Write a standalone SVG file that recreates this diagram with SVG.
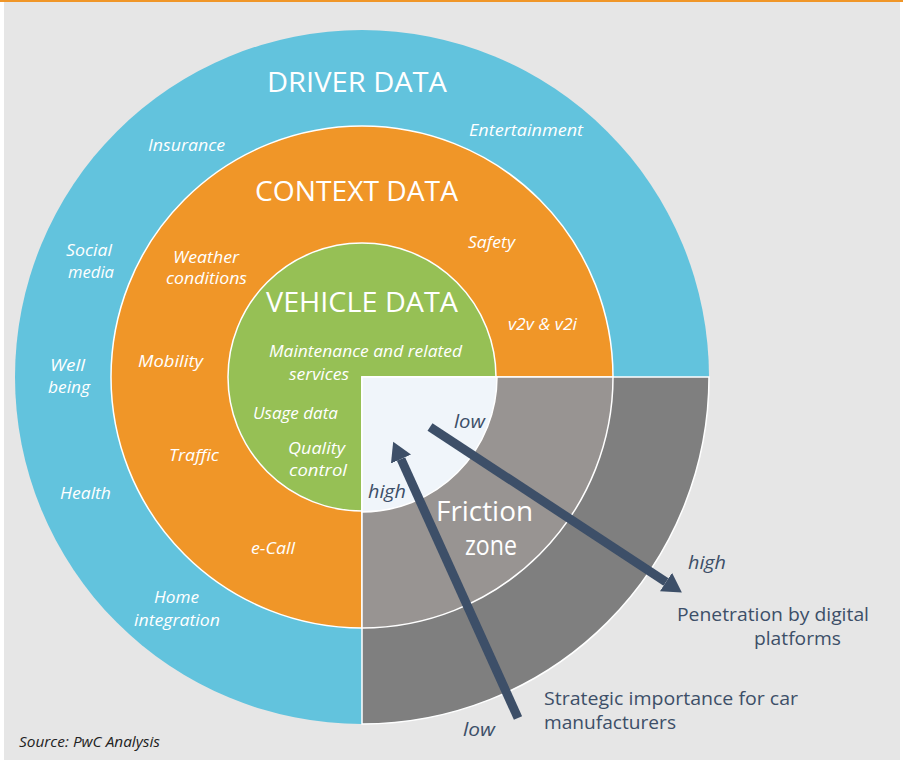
<svg xmlns="http://www.w3.org/2000/svg" width="903" height="763" viewBox="0 0 903 763">
  <defs>
    <style>
      .lbl { font-family: "Open Sans", "Liberation Sans", sans-serif; font-style: italic; font-size: 17px; fill: #ffffff; }
      .head { font-family: "Open Sans", "Liberation Sans", sans-serif; font-size: 27px; fill: #ffffff; }
      .axis { font-family: "Open Sans", "Liberation Sans", sans-serif; font-style: italic; font-size: 19px; fill: #3d4f68; }
      .cap { font-family: "Open Sans", "Liberation Sans", sans-serif; font-size: 19px; fill: #3d4f68; }
      .ring { stroke: #ffffff; stroke-width: 1.5; }
      .arrow { stroke: #3d4f68; stroke-width: 9; fill: none; marker-end: url(#head); }
    </style>
    <marker id="head" markerUnits="userSpaceOnUse" markerWidth="20" markerHeight="22" refX="0" refY="11" orient="auto">
      <path d="M0,0 L19,11 L0,22 Z" fill="#3d4f68"/>
    </marker>
  </defs>

  <!-- page -->
  <rect x="0" y="0" width="903" height="763" fill="#ffffff"/>
  <rect x="4" y="2" width="896" height="758" fill="#e6e6e6"/>
  <rect x="0" y="0" width="903" height="2" fill="#f09628"/>

  <!-- data rings -->
  <g id="driver-data">
    <circle cx="362" cy="377" r="347" fill="#62c3dd"/>
    <text class="head" x="267" y="92" textLength="180" lengthAdjust="spacingAndGlyphs">DRIVER DATA</text>
    <text class="lbl" x="469" y="136" textLength="114" lengthAdjust="spacingAndGlyphs">Entertainment</text>
    <text class="lbl" x="148" y="151" textLength="77" lengthAdjust="spacingAndGlyphs">Insurance</text>
    <text class="lbl" x="66" y="256" textLength="46" lengthAdjust="spacingAndGlyphs">Social</text>
    <text class="lbl" x="68" y="278" textLength="46" lengthAdjust="spacingAndGlyphs">media</text>
    <text class="lbl" x="50" y="371" font-size="16" textLength="35" lengthAdjust="spacingAndGlyphs">Well</text>
    <text class="lbl" x="48" y="393" font-size="16" textLength="42" lengthAdjust="spacingAndGlyphs">being</text>
    <text class="lbl" x="60" y="499" textLength="51" lengthAdjust="spacingAndGlyphs">Health</text>
    <text class="lbl" x="154" y="603" textLength="45" lengthAdjust="spacingAndGlyphs">Home</text>
    <text class="lbl" x="134" y="626" textLength="86" lengthAdjust="spacingAndGlyphs">integration</text>
  </g>

  <g id="context-data">
    <circle class="ring" cx="362" cy="377" r="251" fill="#f09628"/>
    <text class="head" x="255" y="201" textLength="203" lengthAdjust="spacingAndGlyphs">CONTEXT DATA</text>
    <text class="lbl" x="468" y="248" textLength="47" lengthAdjust="spacingAndGlyphs">Safety</text>
    <text class="lbl" x="173" y="263" textLength="66" lengthAdjust="spacingAndGlyphs">Weather</text>
    <text class="lbl" x="166" y="284" textLength="81" lengthAdjust="spacingAndGlyphs">conditions</text>
    <text class="lbl" x="508" y="330" textLength="69" lengthAdjust="spacingAndGlyphs">v2v &amp; v2i</text>
    <text class="lbl" x="138" y="367" textLength="65" lengthAdjust="spacingAndGlyphs">Mobility</text>
    <text class="lbl" x="169" y="461" textLength="50" lengthAdjust="spacingAndGlyphs">Traffic</text>
    <text class="lbl" x="251" y="554" textLength="44" lengthAdjust="spacingAndGlyphs">e-Call</text>
  </g>

  <g id="vehicle-data">
    <circle class="ring" cx="362" cy="377" r="134" fill="#96c055"/>
    <text class="head" x="266" y="312" textLength="192" lengthAdjust="spacingAndGlyphs">VEHICLE DATA</text>
    <text class="lbl" x="269" y="357" textLength="193" lengthAdjust="spacingAndGlyphs">Maintenance and related</text>
    <text class="lbl" x="289" y="380" textLength="60" lengthAdjust="spacingAndGlyphs">services</text>
    <text class="lbl" x="253" y="419" textLength="85" lengthAdjust="spacingAndGlyphs">Usage data</text>
    <text class="lbl" x="288" y="454" textLength="57" lengthAdjust="spacingAndGlyphs">Quality</text>
    <text class="lbl" x="289" y="476" textLength="58" lengthAdjust="spacingAndGlyphs">control</text>
  </g>

  <!-- friction zone quadrant -->
  <g id="friction-zone">
    <path class="ring" d="M362,377 H709 A347,347 0 0 1 362,724 Z" fill="#7f7f7f"/>
    <path class="ring" d="M362,377 H613 A251,251 0 0 1 362,628 Z" fill="#989492"/>
    <path class="ring" d="M362,377 H497 A135,135 0 0 1 362,512 Z" fill="#f0f5fa"/>
    <text class="head" font-size="25">
      <tspan x="436" y="521" textLength="97" lengthAdjust="spacingAndGlyphs">Friction</tspan>
      <tspan x="465" y="555" textLength="52" lengthAdjust="spacingAndGlyphs">zone</tspan>
    </text>
  </g>

  <!-- axes -->
  <g id="connectors">
    <line class="arrow" x1="430" y1="427" x2="666" y2="582"/>
    <line class="arrow" x1="518" y1="718" x2="401" y2="459"/>
  </g>

  <g id="axis-penetration">
    <text class="axis" x="454" y="428" textLength="31" lengthAdjust="spacingAndGlyphs">low</text>
    <text class="axis" x="688" y="569" textLength="38" lengthAdjust="spacingAndGlyphs">high</text>
    <text class="cap" x="677" y="621" textLength="192" lengthAdjust="spacingAndGlyphs">Penetration by digital</text>
    <text class="cap" x="754" y="645" textLength="87" lengthAdjust="spacingAndGlyphs">platforms</text>
  </g>

  <g id="axis-strategic">
    <text class="axis" x="368" y="498" textLength="38" lengthAdjust="spacingAndGlyphs">high</text>
    <text class="axis" x="463" y="736" textLength="32" lengthAdjust="spacingAndGlyphs">low</text>
    <text class="cap" x="544" y="705" textLength="254" lengthAdjust="spacingAndGlyphs">Strategic importance for car</text>
    <text class="cap" x="544" y="729" textLength="132" lengthAdjust="spacingAndGlyphs">manufacturers</text>
  </g>

  <text x="19" y="747" textLength="141" lengthAdjust="spacingAndGlyphs" font-family="Open Sans, Liberation Sans, sans-serif" font-style="italic" font-size="14" fill="#222222">Source: PwC Analysis</text>
</svg>
